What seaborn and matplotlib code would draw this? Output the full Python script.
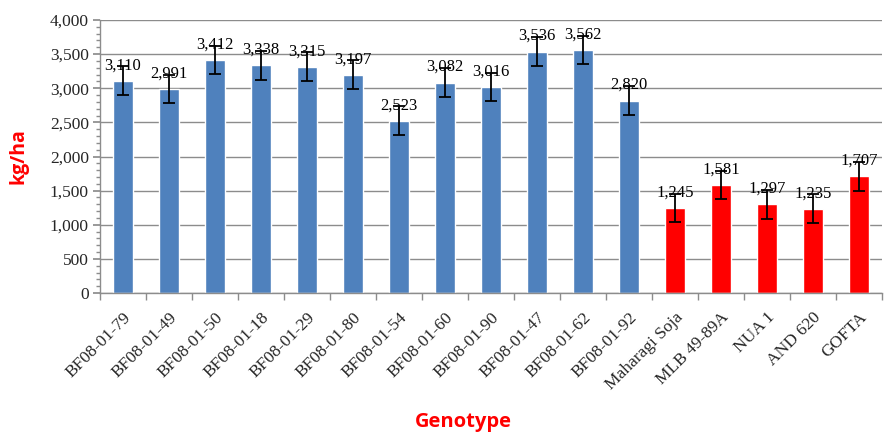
import matplotlib
matplotlib.use("Agg")
import matplotlib.pyplot as plt
import seaborn as sns
import numpy as np
from matplotlib.ticker import FuncFormatter, MultipleLocator

genotypes = ["BF08-01-79", "BF08-01-49", "BF08-01-50", "BF08-01-18", "BF08-01-29",
             "BF08-01-80", "BF08-01-54", "BF08-01-60", "BF08-01-90", "BF08-01-47",
             "BF08-01-62", "BF08-01-92", "Maharagi Soja", "MLB 49-89A", "NUA 1",
             "AND 620", "GOFTA"]
yields = [3110, 2991, 3412, 3338, 3315, 3197, 2523, 3082, 3016, 3536, 3562, 2820,
          1245, 1581, 1297, 1235, 1707]
errors = [210, 210, 210, 210, 210, 210, 210, 210, 210, 210, 210, 210,
          210, 210, 210, 210, 210]
group = ["line"] * 12 + ["check"] * 5

sns.set_theme(style="white")
plt.rcParams['font.family'] = ['Liberation Serif', 'DejaVu Serif']

fig = plt.figure(figsize=(8.86, 4.33), dpi=100)
ax = fig.add_axes([100/886, 1-293/433, 782/886, 273/433])

palette = {"line": "#4F81BD", "check": "#FF0000"}
sns.barplot(x=genotypes, y=yields, hue=group, palette=palette, dodge=False,
            width=0.42, legend=False, ax=ax, saturation=1)

xs = np.arange(len(genotypes))
ax.errorbar(xs, yields, yerr=errors, fmt="none", ecolor="black", elinewidth=1.3,
            capsize=4, capthick=1.3, zorder=5)

for x, v, e in zip(xs, yields, errors):
    ax.annotate(f"{v:,}", (x, v + e), xytext=(0, -2), textcoords="offset points",
                ha="center", va="baseline", fontsize=12, color="black", zorder=6)

ax.set_ylim(0, 4000)
ax.set_xlim(-0.5, len(genotypes) - 0.5)
ax.yaxis.set_major_locator(MultipleLocator(500))
ax.yaxis.set_minor_locator(MultipleLocator(100))
ax.yaxis.set_major_formatter(FuncFormatter(lambda v, p: f"{int(v):,}"))
ax.grid(axis="y", which="major", color="#8c8c8c", linewidth=1)
ax.set_axisbelow(True)

for s in ["top", "right"]:
    ax.spines[s].set_visible(False)
for s in ["left", "bottom"]:
    ax.spines[s].set_color("#8c8c8c")
    ax.spines[s].set_linewidth(1)

ax.tick_params(axis="y", which="major", left=True, length=5, color="#8c8c8c",
               labelsize=12.5, pad=3)
ax.tick_params(axis="y", which="minor", left=True, length=3, color="#8c8c8c")
ax.set_xticks(np.arange(-0.5, len(genotypes), 1), minor=True)
ax.set_xticks(xs)
ax.set_xticklabels(genotypes, rotation=45, ha="right", rotation_mode="anchor",
                   fontsize=12.5)
ax.tick_params(axis="x", which="major", bottom=False, pad=6)
ax.tick_params(axis="x", which="minor", bottom=True, length=5, color="#8c8c8c")

ax.set_ylabel("")
ax.set_xlabel("")
fig.text(18/886, 1-156/433, "kg/ha", rotation=90, ha="center", va="center",
         color="#FF0000", fontsize=14, fontweight="bold",
         family=["Open Sans", "DejaVu Sans"])
fig.text(463/886, 1-422/433, "Genotype", ha="center", va="center",
         color="#FF0000", fontsize=14.5, fontweight="bold",
         family=["Open Sans", "DejaVu Sans"])

fig.savefig("out.png", dpi=100)
